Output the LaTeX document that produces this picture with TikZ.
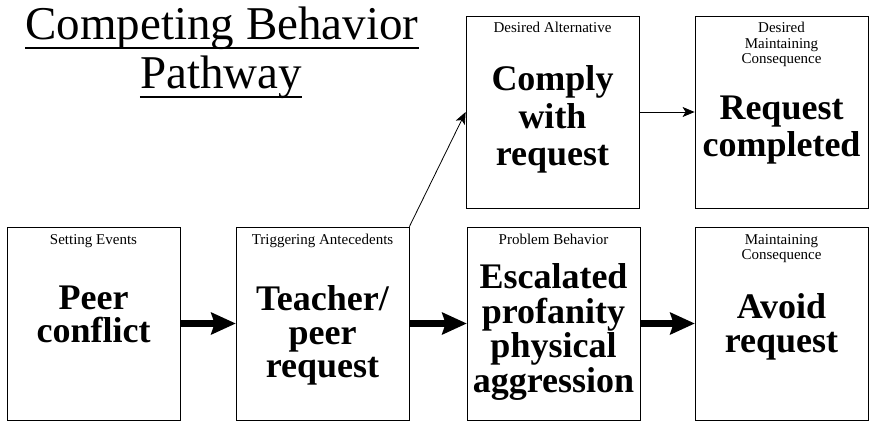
\documentclass[tikz,border=0pt]{standalone}
\usepackage{fontspec}
\setmainfont{Liberation Serif}
\usetikzlibrary{arrows.meta}

\begin{document}
\begin{tikzpicture}[x=1pt,y=-1pt,
        box/.style={draw,line width=0.8pt,minimum width=173pt,minimum height=193pt,inner sep=0pt},
        topbox/.style={box,minimum height=192pt},
        caption/.style={anchor=north,inner sep=0pt,align=center,font=\fontsize{15}{15.5}\selectfont},
        bigtext/.style={anchor=north,inner sep=0pt,align=center,font=\bfseries\fontsize{36}{#1}\selectfont},
        bigtext/.default=33.5,
        title/.style={anchor=base,inner sep=0pt,font=\fontsize{47}{49}\selectfont},
        thickarrow/.style={line width=7pt,-{Stealth[length=25pt,width=23pt,inset=4pt,line width=0pt]}},
        thinarrow/.style={line width=0.8pt,-{Stealth[length=12pt,width=10pt,inset=3pt]}}]
    \useasboundingbox (0,0) rectangle (869,422);
    %% Title
    \node[title] (title1) at (222,40) {Competing Behavior};
    \node[title] (title2) at (221,89) {Pathway};
    \draw[line width=2pt] ([yshift=-8.5pt]title1.base west) -- ([yshift=-8.5pt]title1.base east);
    \draw[line width=2pt] ([yshift=-8.5pt]title2.base west) -- ([yshift=-8.5pt]title2.base east);
    %% Bottom row
    \node[box] (setting) at (93.5,323.5) {};
    \node[box] (trigger) at (322.5,323.5) {};
    \node[box] (problem) at (553.5,323.5) {};
    \node[box] (maintain) at (781.5,323.5) {};
    \node[caption] (settinglbl) at ([yshift=-7.5pt]setting.north) {Setting Events};
    \node[caption] (triggerlbl) at ([yshift=-7.5pt]trigger.north) {Triggering Antecedents};
    \node[caption] (problemlbl) at ([yshift=-7.5pt]problem.north) {Problem Behavior};
    \node[caption] (maintainlbl) at ([yshift=-7.5pt]maintain.north) {Maintaining\\Consequence};
    \node[bigtext] (settingtxt) at ([yshift=-59pt]setting.north) {Peer\\conflict};
    \node[bigtext] (triggertxt) at ([yshift=-59pt]trigger.north) {Teacher/\\peer\\request};
    \node[bigtext=34.5] (problemtxt) at ([yshift=-37pt]problem.north) {Escalated\\profanity\\physical\\aggression};
    \node[bigtext] (maintaintxt) at ([yshift=-67pt]maintain.north) {Avoid\\request};
    %% Top row
    \node[topbox] (alt) at (552.5,112) {};
    \node[topbox] (altcons) at (781.5,112) {};
    \node[caption] (altlbl) at ([yshift=-6.5pt]alt.north) {Desired Alternative};
    \node[caption] (altconslbl) at ([yshift=-6.5pt]altcons.north) {Desired\\Maintaining\\Consequence};
    \node[bigtext=37.5] (alttxt) at ([yshift=-50pt]alt.north) {Comply\\with\\request};
    \node[bigtext=37] (altconstxt) at ([yshift=-80pt]altcons.north) {Request\\completed};
    %% Arrows
    \draw[thickarrow] (setting) -- (trigger);
    \draw[thickarrow] (trigger) -- (problem);
    \draw[thickarrow] (problem) -- (maintain);
    \draw[thinarrow] (trigger.north east) -- (alt.west);
    \draw[thinarrow] (alt) -- (altcons);
\end{tikzpicture}
\end{document}
